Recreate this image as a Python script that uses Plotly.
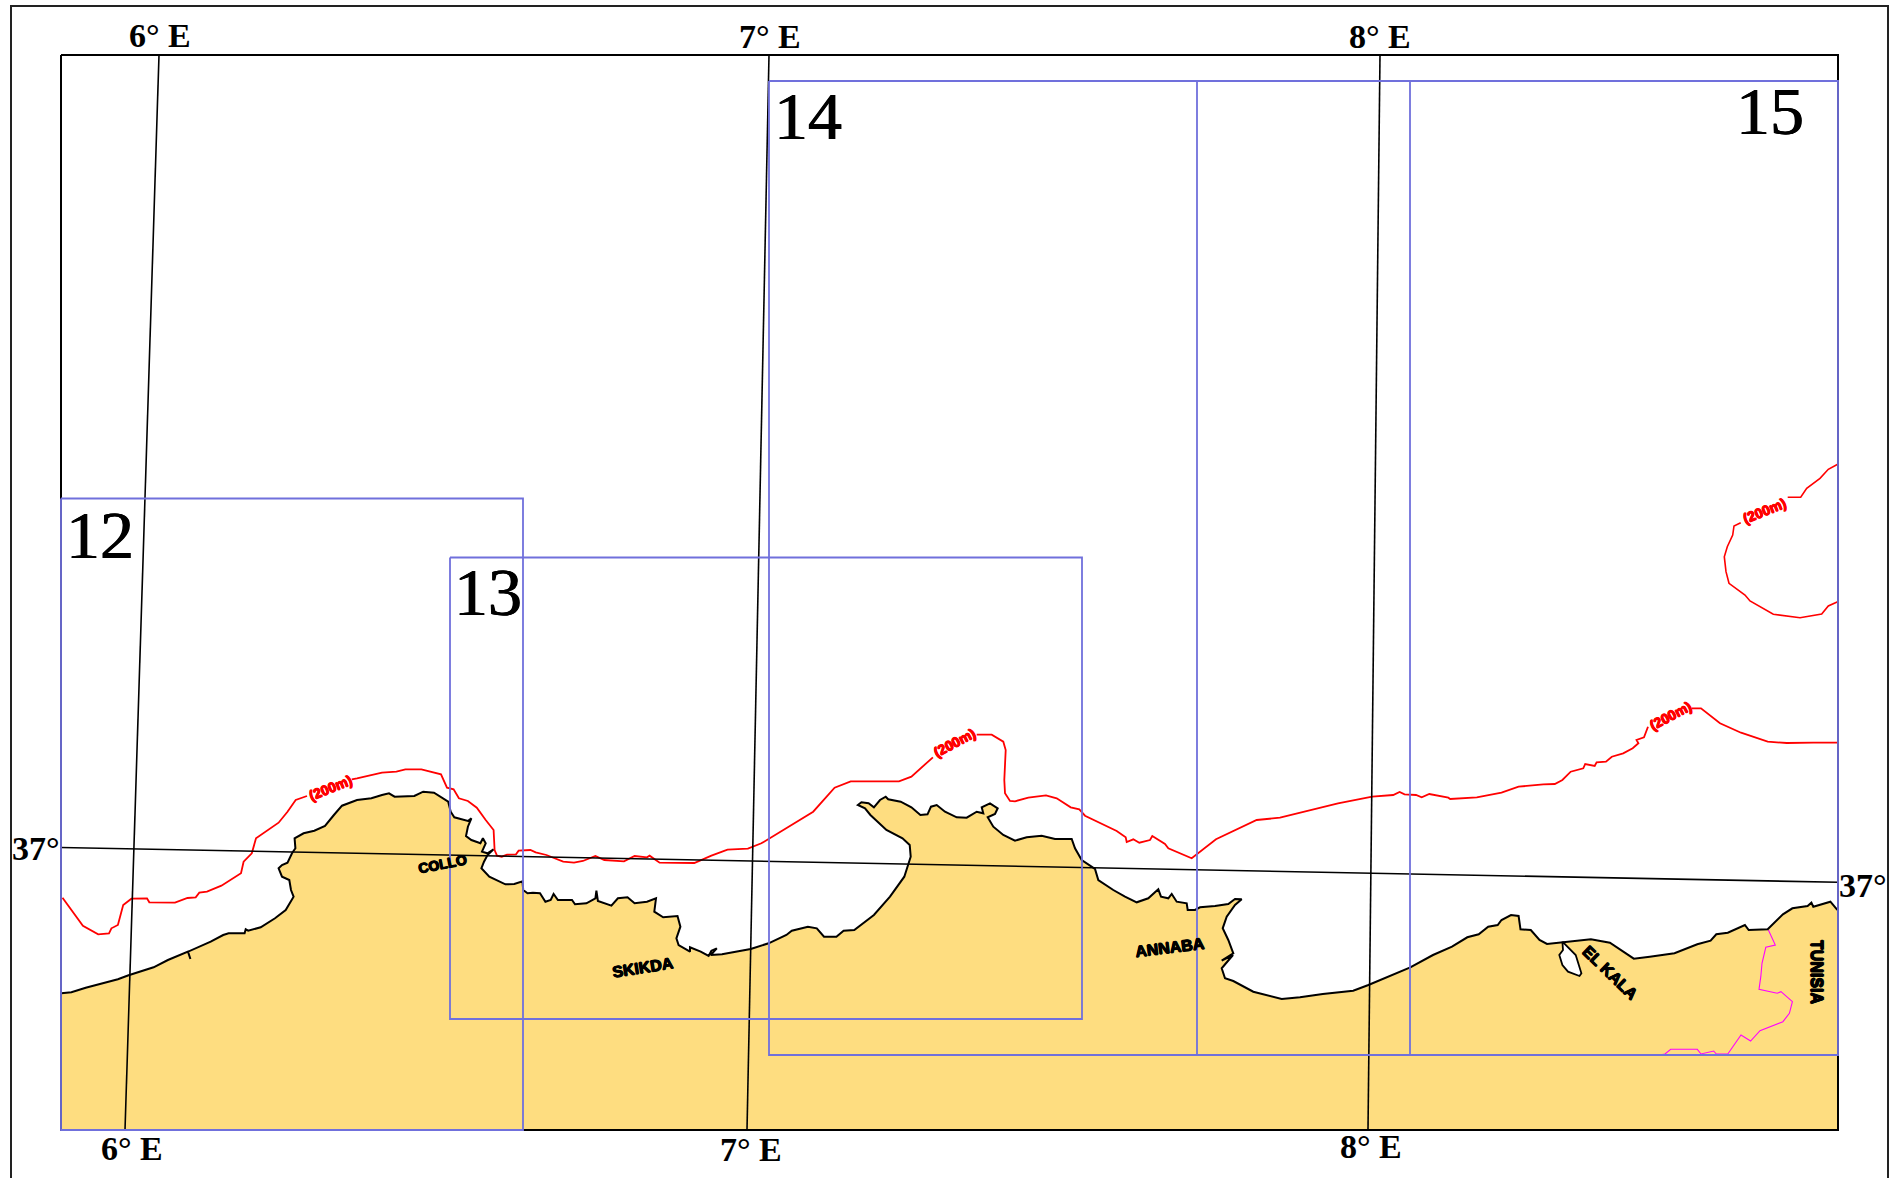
"""Chart index map of the eastern Algerian coast, 6-9 E, in page pixel units."""

import plotly.graph_objects as go

FONT_SERIF = "Liberation Serif, Times New Roman, serif"
FONT_SANS = "Liberation Sans, Arial, sans-serif"

LAND_COLOR = "#FEDD80"
BOX_COLOR = "#7070DC"

# Coastline, west to east.
coast_x = [
    61.4, 71.4, 85.7, 103.6, 117.9, 128.6, 153.6, 167.9, 183.9, 188, 190.4, 188, 210.7, 223.2,
    228.6, 244.6, 245.7, 248.2, 260.7, 275, 285.7, 293.6, 291, 289.3, 282, 278.6, 282, 287.5,
    292, 295.4, 294.6, 303.6, 314.3, 325, 333.9, 342, 357, 371.4, 382, 389, 394.6, 414.3, 423.2,
    434, 448.2, 450.7, 454.3, 467.9, 471.4, 467.9, 466, 471.4, 480.4, 482.9, 485.7, 482, 487.5,
    493.6, 487.5, 484, 481.4, 489.3, 505.4, 514.3, 522.5, 523.2, 527.5, 532.9, 540, 545.4, 550.7,
    553.6, 557.9, 572, 575, 586.4, 595.4, 596.4, 597.9, 611.4, 617.9, 627.5, 634.6, 647, 656,
    654.3, 663.2, 677.5, 680.4, 676.4, 678.6, 690, 690, 700.7, 708.6, 711.4, 716.8, 710.7, 722,
    750.7, 768.6, 786.4, 791.8, 807.9, 816.8, 824, 836.4, 843.6, 854.3, 873.9, 890, 904.3, 910.7,
    909.7, 902.5, 886.4, 870.4, 865, 857.9, 861.4, 868.6, 873.9, 880, 885.7, 888.2, 900.7, 911.4,
    920.4, 927.5, 931, 936.7, 945, 956.7, 966.7, 976.7, 983.3, 981.7, 990, 997.7, 995, 987.7,
    993.3, 1003.3, 1015, 1026.7, 1041.7, 1055, 1071.7, 1075, 1081.7, 1095, 1098.3, 1113.3, 1125,
    1136.7, 1148.3, 1158.3, 1161, 1168.3, 1171.7, 1176.7, 1186.7, 1187.7, 1195, 1200, 1215,
    1228.3, 1235, 1241.7, 1235, 1226.7, 1222.7, 1228.3, 1233.3, 1221.7, 1233, 1221.7, 1225,
    1233.3, 1253.3, 1281.7, 1300, 1322.8, 1353.2, 1368.4, 1410.3, 1433, 1452, 1467.3, 1478.7,
    1488.2, 1497.7, 1501.5, 1511, 1518.6, 1520.5, 1530.8, 1539.5, 1547, 1562.4, 1590.9, 1609.9,
    1623.2, 1633.8, 1649.8, 1674.5, 1697.3, 1710.6, 1716.3, 1727.8, 1744.9, 1748.7, 1767.7,
    1782.9, 1792.4, 1807.6, 1811.4, 1813.3, 1830.4, 1836.9, 1838,
]
coast_y = [
    993.3, 992.3, 987.7, 982.7, 979.3, 975.3, 967.3, 960, 953.3, 951.7, 959, 951.7, 941.7, 935,
    933.3, 933.3, 929.3, 930.7, 927.3, 918.3, 910, 896.7, 890, 880, 876.7, 868.3, 865, 862.7,
    853.3, 848.3, 838.3, 833.3, 830.7, 826, 815, 805.7, 800, 798.3, 795, 793.3, 796.7, 796, 791.7,
    792.7, 801.7, 811.7, 817.3, 821, 818.3, 826.7, 836, 840, 843.3, 838.3, 843.3, 851.7, 853.3,
    849.3, 855, 861.7, 868.3, 876.7, 884.3, 884, 881.3, 890, 893.3, 892.7, 893.3, 901.7, 900,
    894, 900, 900, 904.3, 903.3, 898.3, 890.7, 901, 905.7, 898.3, 897.3, 903.3, 901.7, 898.3,
    911.7, 917.3, 916, 926.7, 938.3, 945, 951.7, 947.3, 951.7, 956, 950.7, 948.3, 955, 954.3,
    949, 943.3, 935, 930.7, 926.7, 928.3, 936.7, 936.7, 930.7, 930, 915, 896.7, 876.7, 856.7,
    845, 838.3, 830, 815, 808.3, 805, 802.3, 803.3, 807.3, 800, 796.7, 799.3, 801.7, 807.3,
    815, 814.3, 806.7, 805, 811.7, 817.3, 817.7, 811.7, 813.3, 807.3, 803.3, 808.3, 814, 817.3,
    826.7, 835, 840.7, 837.3, 835.7, 839, 839, 848.3, 860, 869, 880, 890, 896.7,
    902.3, 898.3, 889.3, 896.7, 898.3, 894, 901.7, 903.3, 910, 910, 907.3, 906,
    904, 899, 899.3, 905, 916.7, 928.3, 940, 953.3, 960.7, 955, 968.3, 978.3,
    981, 991.7, 999, 997.3, 994, 990.7, 985, 967.3, 955, 946.7, 937.3, 934.3,
    926.7, 925, 920, 915, 916, 929.3, 930, 940, 944, 942.3, 939.3, 942.7,
    951.7, 958.7, 956.7, 953.3, 944.3, 940.7, 934.3, 932.7, 925, 930, 929.3,
    914.3, 908.3, 906, 902.7, 906.7, 901.7, 909.3, 909,
]

# South edge of the land polygon, closing along the inner frame.
land_close_x = [1838, 61, 61.4]
land_close_y = [1130, 1130, 993.3]

# Lagoon at El Kala.
lagoon_x = [1562.4, 1575.7, 1581.4, 1579.5, 1568, 1562.4, 1559.3, 1563, 1562.4]
lagoon_y = [941.7, 955, 973.3, 976, 971.7, 965, 955, 950, 941.7]

# Algeria-Tunisia border.
border_x = [
    1768.4, 1775.3, 1765.8, 1762, 1760.8, 1759, 1777.2, 1781, 1792.4, 1789.4, 1782.9, 1760,
    1750.6, 1741, 1727.8, 1716.3, 1713.7, 1701, 1697.3, 1670.7, 1665, 1659.3,
]
border_y = [
    930, 945, 947.3, 963.3, 976.7, 989.3, 993.3, 991.7, 1001.7, 1013.3, 1021.7, 1030.7,
    1041, 1035, 1054, 1054, 1051, 1054, 1049.3, 1049.3, 1054, 1055,
]

# 200 m isobath along the shelf, None where a label interrupts it.
isobath_x = [
    62.5, 82.9, 98.2, 109, 111.4, 117.9, 123.2, 131.4, 147, 149.3, 175, 187.5, 195.7, 199.3, 207,
    221.4, 241, 243.6, 251.8, 256, 278.6, 287.5, 295.7, 307, None, 351.8, 357, 382, 396.4, 405.4,
    421.4, 441, 447, 453.6, 458.9, 467.9, 476.8, 485.7, 493.6, 494.6, 497, 501.8, 507, 516, 518.6,
    530.4, 535.7, 546.4, 554.3, 563.2, 574, 582.9, 595.4, 604.3, 624, 634.6, 647, 649.6, 659.6,
    694.3, 711.4, 727.5, 747.9, 761.4, 813.2, 834.6, 850.7, 899, 911.4, 932.9, None, 976.7, 991.7,
    1003.3, 1005.7, 1004.3, 1005, 1010, 1015, 1028.3, 1046, 1056.7, 1070.7, 1079.3, 1085, 1116.7,
    1125.7, 1126.7, 1133.3, 1139.3, 1150, 1152.3, 1165, 1168.3, 1191.7, 1216, 1256.7, 1280, 1300,
    1338, 1372.2, 1393.2, 1399.6, 1404.6, 1416, 1421.7, 1429.3, 1448.3, 1450.2, 1476.8, 1501.5,
    1518.6, 1543.3, 1554.8, 1562.4, 1570.7, 1583.3, 1585.2, 1594.7, 1596.6, 1606, 1611.8, 1623.2,
    1632.7, 1638.4, 1636.5, 1644, 1648, None, 1691.6, 1701, 1720, 1741, 1767.7, 1786.7, 1813.3, 1838,
]
isobath_y = [
    897.7, 925.7, 934.3, 933.3, 928.3, 925, 905, 898.7, 898.3, 902.3, 902.7, 898, 897.3, 892.7, 891.7,
    885.7, 873.3, 861.7, 853.3, 838.3, 822.7, 811.7, 800, 796, None, 779.3, 778.3, 772.7, 771.7, 769.3,
    769.3, 774.3, 787.7, 789.3, 798.3, 801, 807.7, 820, 830, 850, 855.7, 856.7, 854.7, 854.3, 850.7,
    850, 852.3, 855, 858.3, 861.7, 862.7, 861, 856, 860, 861.3, 856, 857.3, 855.7, 862.7,
    863, 855.7, 849.7, 848.7, 843.3, 811.7, 787.7, 781.3, 781.3, 776.7, 757.3, None, 734.7, 734.7,
    741.7, 750, 780, 793.3, 801, 801.3, 797.7, 795.3, 798.3, 807.3, 809.3, 815.7, 831,
    837.3, 842, 839.3, 842.7, 840, 836, 844, 848.3, 858.3, 839.3, 820, 817.7, 812.7,
    803.3, 796.7, 795, 792, 794.3, 795, 797.3, 794, 797.7, 799, 797.3, 792.7,
    786.7, 784.3, 784, 780, 771.7, 768.3, 764, 766, 762.3, 761.7, 756.7, 753.3,
    748.3, 743.3, 740, 737.3, 726.7, None, 708.3, 708.3, 723.3, 732.7, 741.7, 743, 742.7, 742.7,
]

# Offshore loop of the 200 m isobath at the east edge.
loop_x = [
    1837.7, 1828.3, 1820, 1806.7, 1800.7, 1787.7, None, 1740.7, 1734, 1732.7, 1727.3, 1724.3, 1726,
    1729, 1745, 1750, 1773.3, 1800, 1821.7, 1828.3, 1837.7,
]
loop_y = [
    464.3, 469.3, 478.3, 488.3, 497.3, 497.3, None, 522.7, 526, 535, 546.7, 556.7, 571.7,
    583.3, 595, 601, 614.3, 617.7, 614, 606, 601.7,
]

# Graticule as (x0, y0, x1, y1).
graticule = [
    (159, 55, 125, 1130),
    (769, 55, 747, 1130),
    (1380, 55, 1368, 1130),
    (61, 847.5, 1838, 882.3),
]

# Chart sheet boxes as (name, left, top, right, bottom).
sheet_boxes = [
    ("12", 61, 498.5, 523, 1130),
    ("13", 450, 557.5, 1082, 1019),
    ("14", 769, 81, 1410, 1055),
    ("15", 1197, 81, 1838, 1055),
]

sheet_labels = ["12", "13", "14", "15"]
sheet_label_x = [100, 488, 808, 1770]
sheet_label_y = [535, 592, 116, 111]

grid_labels = ["6° E", "7° E", "8° E", "6° E", "7° E", "8° E", "37°", "37°"]
grid_label_x = [160, 770, 1380, 132, 751, 1371, 36, 1863]
grid_label_y = [35, 36, 36, 1148, 1149, 1146, 848, 885]

place_names = ["COLLO", "SKIKDA", "ANNABA", "EL KALA", "TUNISIA"]
place_x = [442, 643, 1170, 1610, 1817]
place_y = [864, 967, 947, 972, 972]
place_angle = [-11, -9, -7, 44, 90]
place_size = [14, 16, 16, 16, 16]

isobath_label_x = [330, 954, 1670, 1764]
isobath_label_y = [788, 743, 716, 511]
isobath_label_angle = [-22, -28, -28, -22]

# Thickens the text a little, the source is a blurred raster with heavy type.
HEAVY_BLACK = "0.6px 0 0 black, -0.6px 0 0 black, 0 0.6px 0 black, 0 -0.6px 0 black"
HEAVY_RED = "0.6px 0 0 #FF0000, -0.6px 0 0 #FF0000, 0 0.6px 0 #FF0000, 0 -0.6px 0 #FF0000"
HEAVY_SERIF = "0.5px 0 0 black, -0.5px 0 0 black"


def add_line(fig, x, y, color, width):
    """Add one plain line trace in page pixel units."""
    fig.add_trace(
        go.Scatter(
            x=x,
            y=y,
            mode="lines",
            line=dict(color=color, width=width),
            hoverinfo="skip",
            showlegend=False,
        )
    )


fig = go.Figure()

# Land first, so everything else sits on top of it.
fig.add_trace(
    go.Scatter(
        x=coast_x + land_close_x,
        y=coast_y + land_close_y,
        mode="lines",
        fill="toself",
        fillcolor=LAND_COLOR,
        line=dict(width=0),
        hoverinfo="skip",
        showlegend=False,
    )
)
fig.add_trace(
    go.Scatter(
        x=lagoon_x,
        y=lagoon_y,
        mode="lines",
        fill="toself",
        fillcolor="white",
        line=dict(color="black", width=1.8),
        hoverinfo="skip",
        showlegend=False,
    )
)

add_line(fig, border_x, border_y, "#FF00FF", 1.1)
add_line(fig, coast_x, coast_y, "black", 2)
add_line(fig, isobath_x, isobath_y, "#FF0000", 1.8)
add_line(fig, loop_x, loop_y, "#FF0000", 1.6)

for x0, y0, x1, y1 in graticule:
    add_line(fig, [x0, x1], [y0, y1], "black", 1.6)

# Outer sheet border runs off the bottom of the page.
add_line(fig, [11, 11, 1888, 1888], [1178, 6, 6, 1178], "#222222", 2)
add_line(fig, [61, 1838, 1838, 61, 61], [55, 55, 1130, 1130, 55], "black", 2)

for name, left, top, right, bottom in sheet_boxes:
    add_line(fig, [left, right, right, left, left], [top, top, bottom, bottom, top], BOX_COLOR, 1.8)

for text, x, y in zip(sheet_labels, sheet_label_x, sheet_label_y):
    fig.add_annotation(
        x=x, y=y, text=text, showarrow=False,
        font=dict(family=FONT_SERIF, size=68, color="black", shadow=HEAVY_SERIF),
    )

for text, x, y in zip(grid_labels, grid_label_x, grid_label_y):
    fig.add_annotation(
        x=x, y=y, text=f"<b>{text}</b>", showarrow=False,
        font=dict(family=FONT_SERIF, size=34, color="black"),
    )

for text, x, y, angle, size in zip(place_names, place_x, place_y, place_angle, place_size):
    fig.add_annotation(
        x=x, y=y, text=f"<b>{text}</b>", textangle=angle, showarrow=False,
        font=dict(family=FONT_SANS, size=size, color="black", shadow=HEAVY_BLACK),
    )

for x, y, angle in zip(isobath_label_x, isobath_label_y, isobath_label_angle):
    fig.add_annotation(
        x=x, y=y, text="<b>(200m)</b>", textangle=angle, showarrow=False,
        font=dict(family=FONT_SANS, size=14, color="#FF0000", shadow=HEAVY_RED),
    )

fig.update_layout(
    width=1896,
    height=1178,
    margin=dict(l=0, r=0, t=0, b=0),
    paper_bgcolor="white",
    plot_bgcolor="white",
    showlegend=False,
    xaxis=dict(visible=False, range=[0, 1896], fixedrange=True),
    yaxis=dict(visible=False, range=[1178, 0], fixedrange=True),
)

fig.write_html(
    "out.html",
    config={"displayModeBar": False},
    post_script="document.body.style.margin = '0'; document.documentElement.style.overflow = 'hidden';",
)
